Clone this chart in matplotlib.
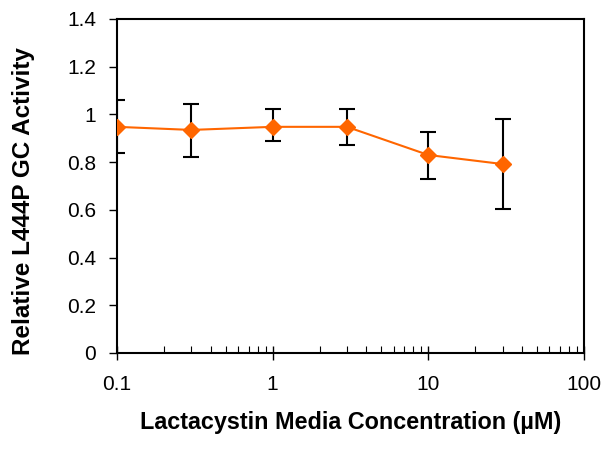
import matplotlib
matplotlib.use("Agg")
import matplotlib.pyplot as plt
from matplotlib.ticker import LogLocator, FixedLocator, NullFormatter

conc = [0.1, 0.3, 1, 3, 10, 30]
activity = [0.948, 0.935, 0.948, 0.948, 0.830, 0.792]
err_upper = [1.06, 1.044, 1.021, 1.021, 0.926, 0.981]
err_lower = [0.84, 0.823, 0.887, 0.872, 0.728, 0.602]
xticks = [0.1, 1, 10, 100]
xticklabels = ["0.1", "1", "10", "100"]
yticks = [0, 0.2, 0.4, 0.6, 0.8, 1.0, 1.2, 1.4]
yticklabels = ["0", "0.2", "0.4", "0.6", "0.8", "1", "1.2", "1.4"]

plt.rcParams['font.family'] = ['Liberation Sans', 'DejaVu Sans']

fig = plt.figure(figsize=(6.09, 4.51), dpi=100)
ax = fig.add_axes([117/609, 1 - 353/451, (584 - 117)/609, (353 - 19)/451])

yerr = [[a - l for a, l in zip(activity, err_lower)],
        [u - a for a, u in zip(activity, err_upper)]]
ax.errorbar(conc, activity, yerr=yerr, fmt='none', ecolor='black',
            elinewidth=1.5, capsize=6, capthick=1.5, zorder=2)
ax.plot(conc, activity, color='#FF6600', lw=1.5, marker='D', markersize=8.5,
        markerfacecolor='#FF6600', markeredgecolor='#FF6600', zorder=3)

ax.set_xscale('log')
ax.set_xlim(0.1, 100)
ax.set_ylim(0, 1.4)
ax.xaxis.set_major_locator(FixedLocator(xticks))
ax.set_xticklabels(xticklabels)
ax.xaxis.set_minor_locator(LogLocator(base=10, subs=range(2, 10)))
ax.xaxis.set_minor_formatter(NullFormatter())
ax.set_yticks(yticks)
ax.set_yticklabels(yticklabels)

ax.tick_params(axis='x', which='major', direction='inout', length=10, width=1, labelsize=15, pad=11)
ax.tick_params(axis='x', which='minor', direction='in', length=5, width=0.8)
ax.tick_params(axis='y', which='major', direction='out', length=6, width=1, labelsize=15, pad=9)
for s in ax.spines.values():
    s.set_linewidth(1.5)

ax.set_xlabel("Lactacystin Media Concentration (\u00b5M)", fontsize=16.8, fontweight='bold', labelpad=12)
ax.set_ylabel("Relative L444P GC Activity", fontsize=17.5, fontweight='bold')
ax.yaxis.set_label_coords(-0.176, 0.455)

fig.savefig("out.png", dpi=100)
